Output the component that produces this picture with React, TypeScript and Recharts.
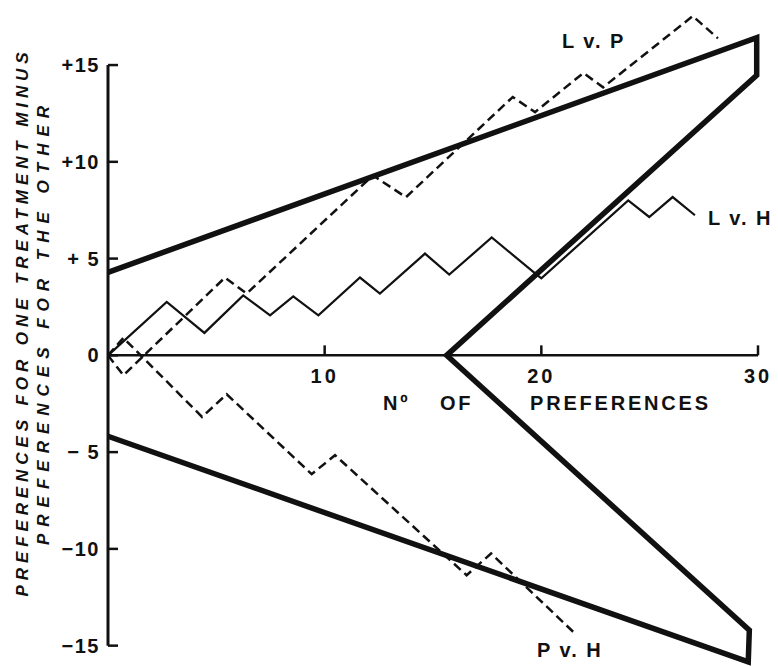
import { LineChart, Line, XAxis, YAxis, ReferenceLine, ReferenceDot } from "recharts";

// n = number of preferences, d = preferences for one treatment minus the other
const BOUNDARY = [
  { n: 0, d: 4.29 },
  { n: 29.94, d: 16.42 },
  { n: 29.94, d: 14.47 },
  { n: 15.63, d: 0 },
  { n: 29.6, d: -14.2 },
  { n: 29.55, d: -15.84 },
  { n: 0, d: -4.18 },
];

const L_V_H = [
  { n: 0, d: 0 },
  { n: 2.71, d: 2.76 },
  { n: 4.45, d: 1.16 },
  { n: 6.24, d: 3.1 },
  { n: 7.48, d: 2.07 },
  { n: 8.55, d: 3.05 },
  { n: 9.71, d: 2.07 },
  { n: 11.63, d: 4.02 },
  { n: 12.55, d: 3.19 },
  { n: 14.63, d: 5.26 },
  { n: 15.75, d: 4.17 },
  { n: 17.71, d: 6.09 },
  { n: 19.7, d: 4.25 },
  { n: 20.0, d: 3.98 },
  { n: 24.01, d: 8.01 },
  { n: 24.98, d: 7.15 },
  { n: 26.06, d: 8.18 },
  { n: 27.09, d: 7.24 },
];

const L_V_P = [
  { n: 0, d: 0 },
  { n: 0.71, d: -1.03 },
  { n: 5.4, d: 4.02 },
  { n: 6.4, d: 3.19 },
  { n: 12.23, d: 9.3 },
  { n: 13.75, d: 8.17 },
  { n: 18.68, d: 13.35 },
  { n: 19.71, d: 12.57 },
  { n: 21.94, d: 14.59 },
  { n: 22.85, d: 13.85 },
  { n: 26.99, d: 17.53 },
  { n: 28.15, d: 16.38 },
];

const P_V_H = [
  { n: 0, d: 0 },
  { n: 0.71, d: 0.9 },
  { n: 4.34, d: -3.18 },
  { n: 5.48, d: -2.01 },
  { n: 9.4, d: -6.14 },
  { n: 10.48, d: -5.16 },
  { n: 16.55, d: -11.36 },
  { n: 17.68, d: -10.24 },
  { n: 21.55, d: -14.37 },
];

const Y_TICKS = [15, 10, 5, 0, -5, -10, -15];
const Y_TICK_LABELS = ["+15", "+10", "+ 5", "0", "\u2212 5", "\u221210", "\u221215"];
const X_TICKS = [10, 20, 30];

const SERIES_LABELS = [
  { text: "L v. P", n: 20.95, d: 15.87 },
  { text: "L v. H", n: 27.69, d: 6.72 },
  { text: "P v. H", n: 19.8, d: -15.6 },
];

const FONT = "'Liberation Sans', Arial, sans-serif";
const INK = "#111";

function YTick(props: any) {
  const { x, y, payload } = props;
  const i = Y_TICKS.indexOf(payload.value);
  return (
    <g>
      <line x1={x} x2={x + 10} y1={y} y2={y} stroke={INK} strokeWidth={2.5} />
      <text
        x={x - 8}
        y={y}
        textAnchor="end"
        dominantBaseline="central"
        fontFamily={FONT}
        fontWeight="bold"
        fontSize={20}
        letterSpacing={1.5}
        fill={INK}
      >
        {Y_TICK_LABELS[i]}
      </text>
    </g>
  );
}

function YTitle(props: any) {
  const { viewBox } = props;
  const cy = viewBox.y + viewBox.height / 2 - 14;
  const common = {
    fontFamily: FONT,
    fontStyle: "italic",
    fontWeight: "bold",
    fontSize: 17,
    fill: INK,
    textAnchor: "middle" as const,
    dominantBaseline: "central" as const,
  };
  return (
    <g>
      <text x={22} y={cy} transform={`rotate(-90 22 ${cy})`} letterSpacing={4.9} {...common}>
        PREFERENCES FOR ONE TREATMENT MINUS
      </text>
      <text x={43} y={cy} transform={`rotate(-90 43 ${cy})`} letterSpacing={7.0} {...common}>
        PREFERENCES FOR THE OTHER
      </text>
    </g>
  );
}

function XTick(props: any) {
  const { cx, cy, label } = props;
  return (
    <g>
      <line x1={cx} x2={cx} y1={cy} y2={cy - 10} stroke={INK} strokeWidth={2.5} />
      <text
        x={cx}
        y={cy + 28}
        textAnchor="middle"
        fontFamily={FONT}
        fontWeight="bold"
        fontSize={20}
        letterSpacing={3}
        fill={INK}
      >
        {label}
      </text>
    </g>
  );
}

function XTitle(props: any) {
  const { viewBox } = props;
  const y = viewBox.y + 55;
  const x0 = viewBox.x;
  const common = {
    fontFamily: FONT,
    fontWeight: "bold",
    fontSize: 20,
    letterSpacing: 2.8,
    fill: INK,
  };
  return (
    <g>
      <text x={x0 + 275} y={y} {...common}>
        {"N\u00ba"}
      </text>
      <text x={x0 + 332} y={y} {...common}>
        OF
      </text>
      <text x={x0 + 422} y={y} {...common}>
        PREFERENCES
      </text>
    </g>
  );
}

function SeriesLabel(props: any) {
  const { cx, cy, text } = props;
  return (
    <text
      x={cx}
      y={cy}
      fontFamily={FONT}
      fontWeight="bold"
      fontSize={20}
      letterSpacing={2}
      fill={INK}
    >
      {text}
    </text>
  );
}

export default function App() {
  return (
    <div style={{ position: "absolute", left: 0, top: 0, width: 778, height: 666, background: "#fff" }}>
      <LineChart width={778} height={666} margin={{ top: 7, right: 20, bottom: 1, left: 0 }}>
        <XAxis type="number" dataKey="n" domain={[0, 30]} hide />
        <YAxis
          type="number"
          dataKey="d"
          domain={[-16, 18]}
          ticks={Y_TICKS}
          interval={0}
          width={108}
          axisLine={false}
          tickLine={false}
          tickSize={0}
          tickMargin={0}
          tick={<YTick />}
          label={<YTitle />}
        />
        <ReferenceLine
          segment={[
            { x: 0, y: -15 },
            { x: 0, y: 15 },
          ]}
          stroke={INK}
          strokeWidth={3}
        />
        <ReferenceLine y={0} stroke={INK} strokeWidth={2.5} label={<XTitle />} />
        {X_TICKS.map((t) => (
          <ReferenceDot
            key={t}
            x={t}
            y={0}
            r={0}
            shape={(p: any) => <XTick {...p} label={String(t)} />}
          />
        ))}
        <Line
          data={BOUNDARY}
          dataKey="d"
          type="linear"
          stroke={INK}
          strokeWidth={5.5}
          strokeLinejoin="miter"
          dot={false}
          activeDot={false}
          isAnimationActive={false}
        />
        <Line
          data={L_V_H}
          dataKey="d"
          type="linear"
          stroke={INK}
          strokeWidth={2.2}
          dot={false}
          activeDot={false}
          isAnimationActive={false}
        />
        <Line
          data={L_V_P}
          dataKey="d"
          type="linear"
          stroke={INK}
          strokeWidth={2.5}
          strokeDasharray="9 5"
          dot={false}
          activeDot={false}
          isAnimationActive={false}
        />
        <Line
          data={P_V_H}
          dataKey="d"
          type="linear"
          stroke={INK}
          strokeWidth={2.5}
          strokeDasharray="9 5"
          dot={false}
          activeDot={false}
          isAnimationActive={false}
        />
        {SERIES_LABELS.map((s) => (
          <ReferenceDot
            key={s.text}
            x={s.n}
            y={s.d}
            r={0}
            shape={(p: any) => <SeriesLabel {...p} text={s.text} />}
          />
        ))}
      </LineChart>
    </div>
  );
}
